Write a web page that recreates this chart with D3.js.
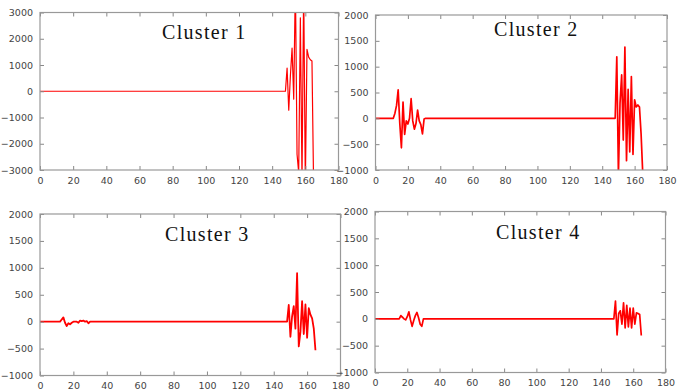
<!DOCTYPE html>
<html>
<head>
<meta charset="utf-8">
<script src="https://cdn.jsdelivr.net/npm/d3@7"></script>
<style>
  body { margin: 0; background: #fff; }
  svg { display: block; }
</style>
</head>
<body>
<svg id="chart" width="688" height="390"></svg>
<script>
// x runs over days 0..165, every value is 0 except the bursts below
const dayCount = 166;
const xTicks = [0, 20, 40, 60, 80, 100, 120, 140, 160, 180];
const yTicksWide = [-3000, -2000, -1000, 0, 1000, 2000, 3000];
const yTicksNarrow = [-1000, -500, 0, 500, 1000, 1500, 2000];

const clusterNames = ['Cluster 1', 'Cluster 2', 'Cluster 3', 'Cluster 4'];

// late burst, days 148..165
const cluster1Late = [0, 880, -720, 600, 1640, -300, 4200, -2400, -3100, 2800, -3400, 4000, -3600, 1600, 1300, 1200, 1150, -3600];
// early burst, days 12..30
const cluster2Early = [100, 250, 550, -100, -570, 315, -310, -50, -110, 0, 380, -50, -210, -100, 160, -50, -120, -300, -15];
const cluster2Late = [0, 1190, -1100, 300, 840, -420, 1380, -820, 560, -650, 810, -700, 360, 220, 260, 220, -300, -1050];
// early burst, days 12..30
const cluster3Early = [0, 40, 80, -20, -80, -30, -50, -20, 0, 0, 0, -20, 20, 10, 20, 0, 10, -30, 0];
const cluster3Late = [0, 310, -280, 100, 290, -130, 900, -460, -190, 380, -230, 320, -300, 250, 130, 60, -130, -530];
// early burst, days 15..30
const cluster4Early = [0, 60, 30, 0, -20, 40, 130, -20, -140, -30, 60, 120, 20, -100, -140, 0];
const cluster4Late = [0, 330, -300, 100, 150, -100, 300, -170, 250, -150, 200, -170, 200, -100, 110, 100, 80, -310];

const clusterBursts = [
  [{ start: 148, values: cluster1Late }],
  [{ start: 12, values: cluster2Early }, { start: 148, values: cluster2Late }],
  [{ start: 12, values: cluster3Early }, { start: 148, values: cluster3Late }],
  [{ start: 15, values: cluster4Early }, { start: 148, values: cluster4Late }]
];

function buildSeries(bursts) {
  const values = new Array(dayCount).fill(0);
  bursts.forEach(b => b.values.forEach((v, i) => { values[b.start + i] = v; }));
  return values.map((v, i) => ({ day: i, value: v }));
}

// panel boxes and title placement
const panels = [
  { left: 40, right: 338.5, top: 12.5, bottom: 170, yDomain: [-3000, 3000], yTicks: yTicksWide, tx: 162, ty: 39, lw: 1.2 },
  { left: 375.5, right: 667, top: 15, bottom: 170, yDomain: [-1000, 2000], yTicks: yTicksNarrow, tx: 494, ty: 36, lw: 1.7 },
  { left: 40, right: 340.5, top: 214, bottom: 375.5, yDomain: [-1000, 2000], yTicks: yTicksNarrow, tx: 165, ty: 241, lw: 1.8 },
  { left: 375, right: 665.5, top: 211.5, bottom: 372.5, yDomain: [-1000, 2000], yTicks: yTicksNarrow, tx: 496, ty: 239, lw: 1.7 }
];

const svg = d3.select('#chart');
const tickLen = 4;
const fmt = d3.format('d');

panels.forEach((p, k) => {
  const x = d3.scaleLinear().domain([0, 180]).range([p.left, p.right]);
  const y = d3.scaleLinear().domain(p.yDomain).range([p.bottom, p.top]);
  const g = svg.append('g');

  const clipId = 'clip' + k;
  g.append('clipPath').attr('id', clipId)
    .append('rect')
    .attr('x', p.left).attr('y', p.top)
    .attr('width', p.right - p.left).attr('height', p.bottom - p.top);

  const series = buildSeries(clusterBursts[k]);
  const line = d3.line().x(d => x(d.day)).y(d => y(d.value));

  g.append('path')
    .datum(series)
    .attr('clip-path', `url(#${clipId})`)
    .attr('fill', 'none')
    .attr('stroke', '#ff0000')
    .attr('stroke-width', p.lw)
    .attr('stroke-linejoin', 'round')
    .attr('d', line);

  // bottom / left axes with inward ticks, plus mirror ticks top/right
  const xAxis = g.append('g').attr('transform', `translate(0,${p.bottom})`)
    .call(d3.axisBottom(x).tickValues(xTicks).tickSizeInner(-tickLen).tickSizeOuter(0).tickPadding(7).tickFormat(fmt));
  const xTop = g.append('g').attr('transform', `translate(0,${p.top})`)
    .call(d3.axisTop(x).tickValues(xTicks).tickSizeInner(-tickLen).tickSizeOuter(0).tickFormat(''));
  const yAxis = g.append('g').attr('transform', `translate(${p.left},0)`)
    .call(d3.axisLeft(y).tickValues(p.yTicks).tickSizeInner(-tickLen).tickSizeOuter(0).tickPadding(7).tickFormat(fmt));
  const yRight = g.append('g').attr('transform', `translate(${p.right},0)`)
    .call(d3.axisRight(y).tickValues(p.yTicks).tickSizeInner(-tickLen).tickSizeOuter(0).tickFormat(''));

  [xAxis, xTop, yAxis, yRight].forEach(a => {
    a.select('.domain').remove();
    a.selectAll('line').attr('stroke', '#888');
    a.selectAll('text')
      .attr('fill', '#444')
      .style('font-family', '"DejaVu Sans", sans-serif')
      .style('font-size', '9.5px');
  });

  g.append('rect')
    .attr('x', p.left).attr('y', p.top)
    .attr('width', p.right - p.left).attr('height', p.bottom - p.top)
    .attr('fill', 'none')
    .attr('stroke', '#999')
    .attr('stroke-width', 1.2);

  g.append('text')
    .attr('x', p.tx).attr('y', p.ty)
    .attr('fill', '#111')
    .style('font-family', '"Liberation Serif", "Times New Roman", serif')
    .style('font-size', '20px')
    .style('letter-spacing', '1.3px')
    .text(clusterNames[k]);
});
</script>
</body>
</html>
